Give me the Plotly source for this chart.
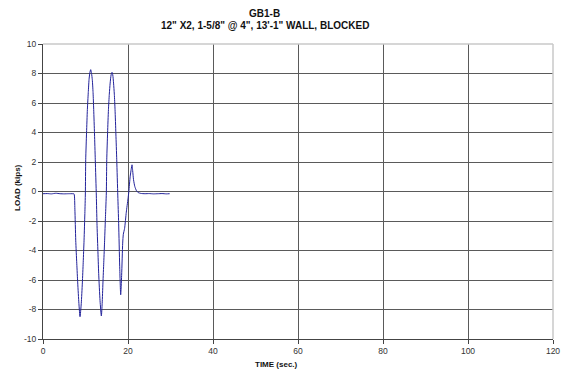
import plotly.graph_objects as go

# Cyclic load history for wall specimen GB1-B
time_s = [0.0, 1.0, 2.0, 3.0, 4.0, 5.0, 6.0, 7.0, 7.3,
          7.5, 7.7, 7.95, 8.17, 8.45, 8.71, 9.0, 9.26, 9.46, 9.66, 9.85, 9.97,
          10.05, 10.25, 10.44, 10.65, 10.83, 11.02, 11.22, 11.42, 11.6, 11.78, 11.93, 12.12, 12.3, 12.55,
          12.7, 12.9, 13.1, 13.42, 13.73, 13.92, 14.1, 14.3, 14.5, 14.7, 14.9,
          15.0, 15.2, 15.4, 15.6, 15.8, 16.02, 16.24, 16.42, 16.6, 16.78, 16.95, 17.15, 17.35, 17.6,
          17.8, 18.05, 18.28, 18.5, 18.75, 18.9, 19.2, 19.6, 20.0, 20.2,
          20.5, 20.75, 20.95, 21.1, 21.3, 21.6, 22.0, 22.4, 23.0, 24.0, 25.0, 26.0, 27.0, 28.0, 29.0, 29.8]
load_kips = [-0.15, -0.14, -0.16, -0.12, -0.15, -0.16, -0.15, -0.15, -0.16,
             -1.2, -3.3, -4.9, -6.2, -7.6, -8.49, -7.6, -6.2, -4.8, -3.3, -1.5, -0.1,
             2.15, 4.0, 5.55, 6.7, 7.58, 8.05, 8.26, 8.0, 7.58, 6.7, 5.55, 3.9, 2.15, -0.3,
             -2.15, -3.9, -5.55, -7.4, -8.44, -7.6, -6.2, -4.8, -3.3, -1.7, -0.1,
             2.15, 4.0, 5.55, 6.6, 7.35, 7.9, 8.08, 7.9, 7.35, 6.6, 5.55, 3.9, 2.15, -0.3,
             -2.15, -5.1, -7.0, -5.7, -3.5, -2.9, -2.5, -1.4, -0.5, 0.0,
             1.0, 1.5, 1.81, 1.4, 0.8, 0.34, 0.05, -0.07, -0.13, -0.15, -0.14, -0.16, -0.15, -0.14, -0.16, -0.15]

x_ticks = [0, 20, 40, 60, 80, 100, 120]
y_ticks = [-10, -8, -6, -4, -2, 0, 2, 4, 6, 8, 10]
y_tick_labels = ["-10", "-8", "-6", "-4", "-2", "0", "2", "4", "6", "8", "10"]

title_line1 = "GB1-B"
title_line2 = "12\" X2, 1-5/8\" @ 4\", 13'-1\" WALL, BLOCKED"
x_title = "TIME (sec.)"
y_title = "LOAD (kips)"

font_family = "Liberation Sans, Arial, sans-serif"
grid_color = "#5a5a5a"
axis_color = "#444444"

fig = go.Figure()
fig.add_trace(go.Scatter(
    x=time_s, y=load_kips, mode="lines",
    line=dict(color="#22229a", width=1, shape="spline", smoothing=0.6),
    showlegend=False, hoverinfo="skip",
))

fig.update_layout(
    width=561, height=379,
    margin=dict(l=43, r=8, t=44, b=40),
    paper_bgcolor="white", plot_bgcolor="white",
    font=dict(family=font_family, size=8, color="#222222"),
    xaxis=dict(
        range=[x_ticks[0], x_ticks[-1]], tickmode="array", tickvals=x_ticks,
        automargin=False,
        showgrid=True, gridcolor=grid_color, gridwidth=1,
        showline=True, linecolor=axis_color, linewidth=1,
        ticks="outside", ticklen=4, tickcolor=axis_color,
        zeroline=False, fixedrange=True,
        tickfont=dict(size=8.5, color="#333333"),
    ),
    yaxis=dict(
        range=[y_ticks[0], y_ticks[-1]], tickmode="array",
        tickvals=y_ticks, ticktext=y_tick_labels, automargin=False,
        showgrid=True, gridcolor=grid_color, gridwidth=1,
        showline=True, linecolor=axis_color, linewidth=1,
        ticks="outside", ticklen=4, tickcolor=axis_color,
        zeroline=False, fixedrange=True,
        tickfont=dict(size=8.5, color="#333333"),
    ),
    shapes=[
        # light frame along the top and right of the plot area
        dict(type="line", xref="paper", yref="paper", x0=0, x1=1, y0=1, y1=1,
             line=dict(color="#c8c8c8", width=1.5), layer="above"),
        dict(type="line", xref="paper", yref="paper", x0=1, x1=1, y0=0, y1=1,
             line=dict(color="#c8c8c8", width=1.5), layer="above"),
    ],
    annotations=[
        dict(text=f"<b>{title_line1}</b>", xref="paper", yref="paper",
             x=0.435, y=1.105, xanchor="center", yanchor="middle",
             showarrow=False, font=dict(size=10, color="#111111")),
        dict(text=f"<b>{title_line2}</b>", xref="paper", yref="paper",
             x=0.435, y=1.062, xanchor="center", yanchor="middle",
             showarrow=False, font=dict(size=10, color="#111111")),
        dict(text=f"<b>{x_title}</b>", xref="paper", yref="paper",
             x=0.458, y=-0.088, xanchor="center", yanchor="middle",
             showarrow=False, font=dict(size=8, color="#111111")),
        dict(text=f"<b>{y_title}</b>", xref="paper", yref="paper",
             x=-0.049, y=0.512, xanchor="center", yanchor="middle",
             textangle=-90, showarrow=False, font=dict(size=8, color="#111111")),
    ],
)

fig.write_html("out.html")
